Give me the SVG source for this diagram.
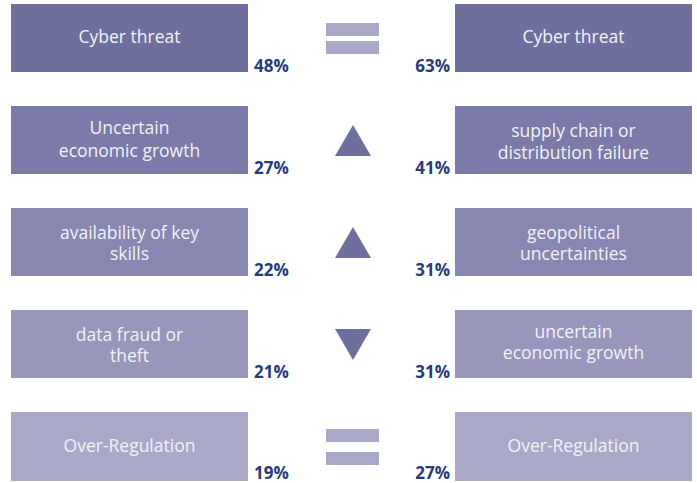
<svg xmlns="http://www.w3.org/2000/svg" width="697" height="483" viewBox="0 0 697 483">
<style>
.lbl{font-family:"Open Sans","Liberation Sans",sans-serif;font-size:17.5px;fill:#f2f2f7;text-anchor:middle}
.pct{font-family:"Open Sans","Liberation Sans",sans-serif;font-size:17px;font-weight:bold;fill:#283a78}
.pl{text-anchor:start}.pr{text-anchor:end}
.eq{fill:#aaa8c8}.tri{fill:#6f6f9e}
</style>
<rect width="697" height="483" fill="#ffffff"/>
<g id="row1">
<rect x="11" y="4" width="237" height="68" fill="#6f6f9e"/>
<text class="lbl" x="129.5" y="43">Cyber threat</text>
<text class="pct pl" x="254" y="72">48%</text>
<rect x="455" y="4" width="237" height="68" fill="#6f6f9e"/>
<text class="lbl" x="573.5" y="43">Cyber threat</text>
<text class="pct pr" x="450" y="72">63%</text>
<rect class="eq" x="326" y="23" width="53" height="13"/>
<rect class="eq" x="326" y="41" width="53" height="13"/>
</g>
<g id="row2">
<rect x="11" y="106" width="237" height="68" fill="#7b7aa8"/>
<text class="lbl" x="129.5" y="134">Uncertain</text>
<text class="lbl" x="129.5" y="156.5">economic growth</text>
<text class="pct pl" x="254" y="174">27%</text>
<rect x="455" y="106" width="237" height="68" fill="#7b7aa8"/>
<text class="lbl" x="573.5" y="137">supply chain or</text>
<text class="lbl" x="573.5" y="159">distribution failure</text>
<text class="pct pr" x="450" y="174">41%</text>
<polygon class="tri" points="353,125 371,156 335,156"/>
</g>
<g id="row3">
<rect x="11" y="208" width="237" height="68" fill="#8887b2"/>
<text class="lbl" x="129.5" y="238.5">availability of key</text>
<text class="lbl" x="129.5" y="260">skills</text>
<text class="pct pl" x="254" y="276">22%</text>
<rect x="455" y="208" width="237" height="68" fill="#8887b2"/>
<text class="lbl" x="573.5" y="238.5">geopolitical</text>
<text class="lbl" x="573.5" y="260">uncertainties</text>
<text class="pct pr" x="450" y="276">31%</text>
<polygon class="tri" points="353,227 371,258 335,258"/>
</g>
<g id="row4">
<rect x="11" y="310" width="237" height="68" fill="#9896bb"/>
<text class="lbl" x="129.5" y="340.5">data fraud or</text>
<text class="lbl" x="129.5" y="362">theft</text>
<text class="pct pl" x="254" y="378">21%</text>
<rect x="455" y="310" width="237" height="68" fill="#9896bb"/>
<text class="lbl" x="573.5" y="337.5">uncertain</text>
<text class="lbl" x="573.5" y="359">economic growth</text>
<text class="pct pr" x="450" y="378">31%</text>
<polygon class="tri" points="335,329 371,329 353,360"/>
</g>
<g id="row5">
<rect x="11" y="412" width="237" height="69" fill="#aaa8c8"/>
<text class="lbl" x="129.5" y="452">Over-Regulation</text>
<text class="pct pl" x="254" y="479">19%</text>
<rect x="455" y="412" width="237" height="69" fill="#aaa8c8"/>
<text class="lbl" x="573.5" y="452">Over-Regulation</text>
<text class="pct pr" x="450" y="479">27%</text>
<rect class="eq" x="326" y="429" width="53" height="13"/>
<rect class="eq" x="326" y="452" width="53" height="13"/>
</g>
</svg>
